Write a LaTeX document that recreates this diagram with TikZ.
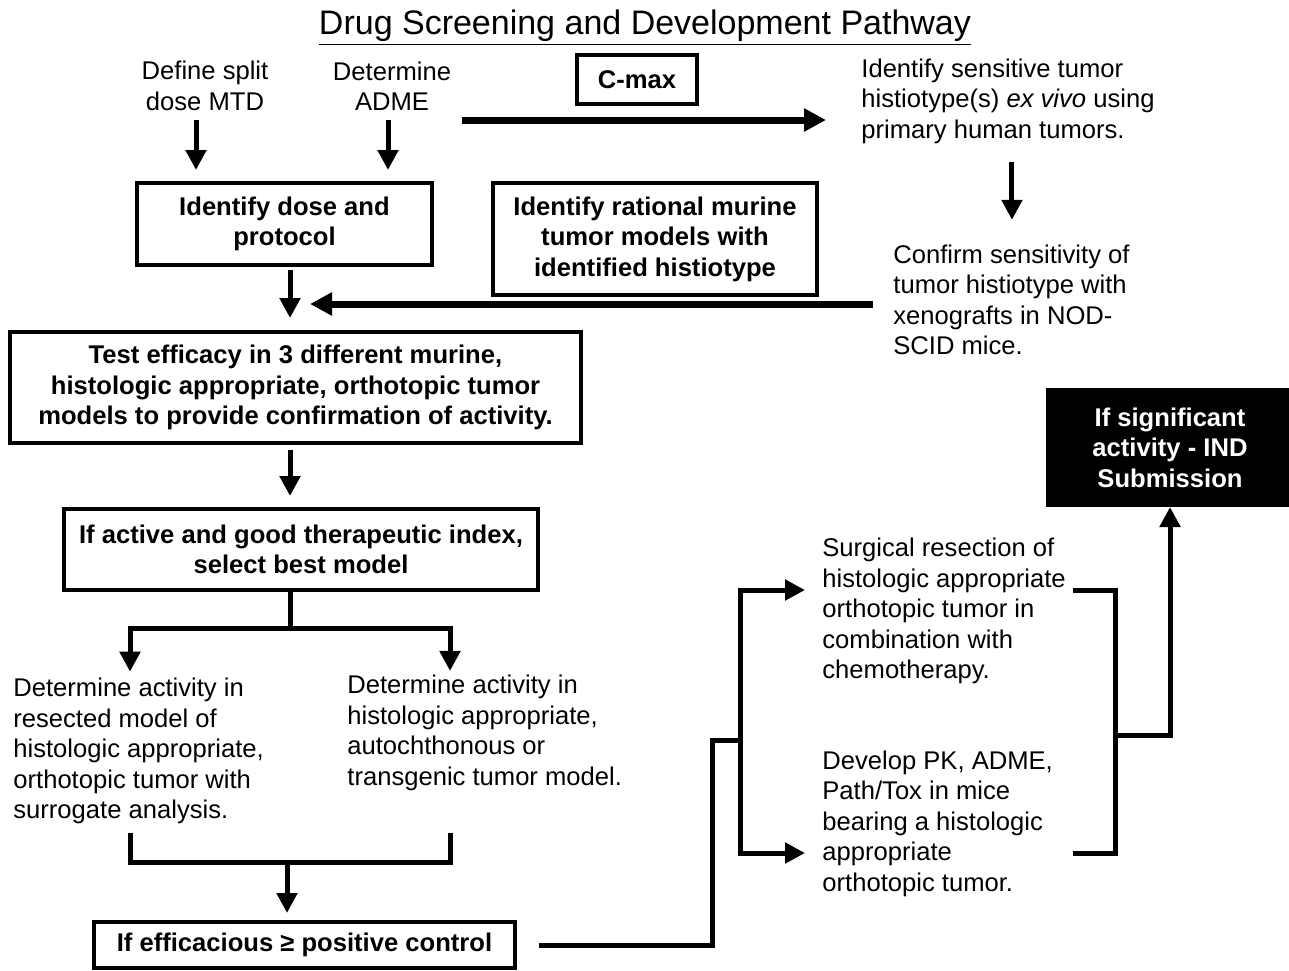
\documentclass[tikz,border=0pt]{standalone}
\usepackage{fontspec}
\setmainfont{Liberation Sans}
\usetikzlibrary{arrows.meta,calc}
\newcommand{\flowfont}{\fontsize{12.8pt}{15.25pt}\selectfont}
\tikzset{
  flowbox/.style={draw, line width=2pt, align=center, inner sep=0pt, font=\flowfont\bfseries},
  txt/.style={align=left, inner sep=0pt, anchor=west, font=\flowfont},
  ctxt/.style={align=center, inner sep=0pt, font=\flowfont},
  link/.style={line width=2.5pt},
  arr/.style={line width=2.5pt, -{Triangle[width=10pt,length=10pt]}},
  bigarr/.style={line width=3.5pt, -{Triangle[width=11pt,length=11pt]}}
}

\begin{document}
\begin{tikzpicture}[x=0.5pt,y=-0.5pt]
		%%%%% START %%%%%
		\useasboundingbox (0,0) rectangle (1289,970);
		
		\node (title) at (645,28) {\fontsize{17pt}{20pt}\selectfont\underline{Drug Screening and Development Pathway}};
		
		\node[ctxt] (mtd) at (205,86) {Define split\\dose MTD};
		\node[ctxt] (adme) at (392,86) {Determine\\ADME};
		\node[flowbox, minimum width=147.5pt, minimum height=41pt] (dose) at (284.5,224) {Identify dose and\\protocol};
		\node[flowbox, minimum width=60pt, minimum height=24.5pt] (cmax) at (637,79.5) {C-max};
		\node[txt] (sens) at (861,101) {Identify sensitive tumor\\histiotype(s) \textit{ex vivo} using\\primary human tumors.};
		\node[flowbox, minimum width=162pt, minimum height=56pt] (rational) at (655,239) {Identify rational murine\\tumor models with\\identified histiotype};
		\node[txt] (confirm) at (893,300) {Confirm sensitivity of\\tumor histiotype with\\xenografts in NOD-\\SCID mice.};
		
		\node[flowbox, minimum width=285.5pt, minimum height=55.5pt] (test) at (295.5,387.5) {Test efficacy in 3 different murine,\\histologic appropriate, orthotopic tumor\\models to provide confirmation of activity.};
		\node[flowbox, minimum width=237pt, minimum height=40.5pt] (active) at (301,549.5) {If active and good therapeutic index,\\select best model};
		
		\node[txt] (resect) at (13,751) {Determine activity in\\resected model of\\histologic appropriate,\\orthotopic tumor with\\surrogate analysis.};
		\node[txt] (auto) at (347,733) {Determine activity in\\histologic appropriate,\\autochthonous or\\transgenic tumor model.};
		\node[flowbox, minimum width=210.5pt, minimum height=23pt] (effic) at (304.5,945) {If efficacious ≥ positive control};
		
		\node[txt] (surg) at (822,611) {Surgical resection of\\histologic appropriate\\orthotopic tumor in\\combination with\\chemotherapy.};
		\node[txt] (pk) at (822,823.5) {Develop PK, ADME,\\Path/Tox in mice\\bearing a histologic\\appropriate\\orthotopic tumor.};
		\node[flowbox, fill=black, text=white, minimum width=122pt, minimum height=57.5pt] (ind) at (1170,447.5) {If significant\\activity - IND\\Submission};
		
		\coordinate (spine) at (290,0);
		\coordinate (colL) at (130,0);
		\coordinate (colR) at (450,0);
		\coordinate (fork) at (290,628);
		\coordinate (join) at (287,862);
		\coordinate (split) at (740,740);
		\coordinate (merge) at (1115,735);
		
		\draw[arr] ($(mtd.south)+(-9,9)$) -- ($(dose.north)+(-88.5,-11)$);
		\draw[arr] ($(adme.south)+(-4,9)$) -- ($(dose.north)+(103.5,-11)$);
		\draw[bigarr] ($(sens.west)+(-399,19)$) -- ($(sens.west)+(-35,19)$);
		\draw[arr] ($(sens.south)+(4,18)$) -- ($(sens.south)+(4,76)$);
		\draw[bigarr] ($(confirm.west)+(-20,4)$) -- ($(confirm.west)+(-583,4)$);
		
		\draw[arr, shorten <=1.5pt, shorten >=6pt] (dose.south -| spine) -- (test.north -| spine);
		\draw[arr, shorten <=2.5pt, shorten >=5.5pt] (test.south -| spine) -- (active.north -| spine);
		\draw[link] (active.south -| spine) -- (fork);
		\draw[arr, shorten >=3pt] (fork) -| (colL |- resect.north);
		\draw[arr, shorten >=2pt] (fork) -| (colR |- auto.north);
		
		\draw[link] ($(colL |- resect.south)+(0,9)$) -- (colL |- join) -- (colR |- join) -- ($(colR |- resect.south)+(0,9)$);
		\draw[arr, shorten >=3.5pt] (join) -- (join |- effic.north);
		
		\draw[link] ($(effic.east)+(22,0)$) -| ($(split)+(-28,0)$) -- (split);
		\draw[arr] (split) |- ($(surg.west)+(-17,-21)$);
		\draw[arr] (split) |- ($(pk.west)+(-17,29.5)$);
		\draw[link] ($(surg.west)+(251,-21)$) -| (merge) |- ($(pk.west)+(251,29.5)$);
		\draw[arr] (merge) -| (ind.south);
		
		%%%%% END %%%%%
\end{tikzpicture}
\end{document}
